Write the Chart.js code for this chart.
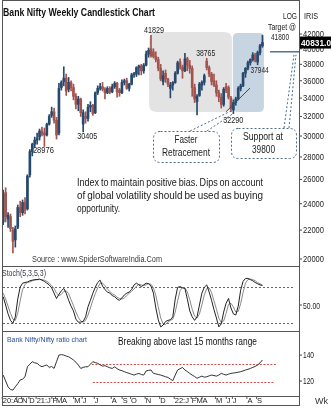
<!DOCTYPE html>
<html><head><meta charset="utf-8">
<script src="https://cdn.jsdelivr.net/npm/chart.js@4.4.0/dist/chart.umd.min.js"></script>
<style>html,body{margin:0;padding:0;background:#fff;}canvas{display:block;}</style>
</head><body>
<canvas id="c" width="331" height="412" style="width:331px;height:412px"></canvas>
<script>
// ---------------- DATA ----------------
const startWeek = '2020-08-24';
const totalSlots = 123; // weekly slots on the axis (108 candles + empty room at right)
const opens = [22600,24900,22800,23000,22000,21300,22200,23700,23300,24100,
23600,26400,28500,29200,29600,29900,30500,30300,30100,31200,
32100,32500,31600,30300,35200,35900,36300,35000,35800,35200,
34200,33300,33900,31200,32000,31800,33000,33200,32400,34600,
35100,35300,35000,34600,35100,34700,35300,35700,34900,34600,
35800,36000,35100,35600,36700,36800,37600,37800,37200,37900,
39300,40000,39600,39000,38600,37500,35900,36900,36200,35100,
35500,35800,36900,38300,37600,37200,38700,37900,37500,35200,
33600,34300,35500,35800,38400,37600,36800,36000,35500,34600,
34100,33300,35300,35200,34000,32700,33500,33900,35100,35400,
36900,37500,38200,38600,39200,38300,39500,40400];
const highs = [25100,25300,23300,23200,22200,22300,23900,24200,24300,24500,
26400,28700,29300,29900,30300,30700,30900,30800,31300,32200,
33000,32900,31900,35700,36000,37700,36800,36400,36000,35600,
34500,34200,34000,32700,32500,33300,33600,33300,34700,35400,
35700,35800,35200,35300,35300,35600,35900,35800,35100,36100,
36200,36300,35700,36900,37000,37700,37900,38000,38100,39700,
40100,41829,40000,39600,38900,38000,37200,37300,36300,35800,
35900,37100,38400,38700,37900,39400,38900,38500,37800,35600,
34400,35800,36000,36800,38765,37800,37000,36800,36000,34900,
34500,35200,35700,35400,34200,33800,34100,35300,35600,37000,
37600,38400,38700,39500,39400,39700,40600,41840];
const lows = [22400,22600,22200,21900,20400,20800,22100,23000,23100,23200,
23500,26200,28100,28900,29200,29600,30000,28976,30000,31100,
31900,31300,29700,30100,34900,35400,34300,34700,34800,33800,
32800,32600,32000,30405,31300,31500,32500,32100,32300,34400,
34900,34800,33900,34500,34500,34600,35100,34100,34200,34500,
35500,35000,34800,35500,36400,36500,36700,36700,36900,37800,
38900,38900,38800,38300,37200,36000,35500,35800,35300,34018,
34900,35700,36800,37400,36300,37100,37200,36900,34200,33500,
32155,34200,34900,35500,37300,36500,35500,35300,34200,33600,
32900,33100,34600,33900,32500,32290,33200,33800,34800,35300,
36400,37300,37900,38400,38300,37944,39200,40200];
const closes = [24800,23000,23100,22100,21200,22100,23700,23300,24100,23500,
26300,28500,29200,29600,29800,30500,30200,30100,31200,32000,
32500,31600,30100,35100,35800,36300,34800,35800,35200,34200,
33300,33900,32400,32400,31800,33000,33200,32300,34600,35100,
35300,35000,34600,35100,34700,35300,35700,34700,34600,35800,
36000,35100,35600,36700,36800,37600,37800,37200,37900,39300,
39800,39100,39000,38600,37500,36200,36600,36200,35600,35500,
35800,36900,38200,37600,37200,38700,37900,37500,35200,33900,
34200,35600,35800,36600,37600,36800,35900,35500,34600,34100,
33300,35000,34900,34100,32800,33500,33900,35100,35400,36900,
37500,38200,38600,39200,38500,39500,40400,40831];
const stochK = [64,50,35,24,19,30,60,80,87,88,
89,91,92,93,93,94,92,90,87,84,
79,70,61,68,74,78,70,58,48,40,
26,21,21,22,30,47,58,70,80,88,
92,82,76,72,70,66,64,60,58,62,
67,70,72,76,84,87,84,81,84,87,
86,82,70,45,25,13,16,22,24,25,
30,60,80,81,79,78,60,40,30,24,
30,50,70,80,84,72,58,42,28,13,
18,38,53,61,45,35,33,48,75,90,
95,95,93,91,88,86,84,83];
const stochD = [70,60,48,36,26,24,36,57,76,85,
88,89,91,92,93,93,93,92,90,87,
83,78,70,66,68,73,74,69,59,49,
38,29,23,21,24,33,45,58,69,79,
87,87,83,77,73,69,67,63,61,60,
62,66,70,73,77,82,85,84,83,84,
86,85,79,66,47,28,18,17,21,24,
26,38,57,74,80,79,72,59,43,31,
28,35,50,67,78,79,71,57,43,28,
20,23,36,51,53,47,38,39,52,71,
87,93,94,93,91,88,86,84];
const ratio = [124.6,120,115.6,113.5,113,115.6,118,120.8,121.5,123.3,
131,133,134.9,134,133.6,132,131,131.8,132.3,130.5,
131.2,129.7,134.9,140,140.3,140,139.2,138.7,137.5,136.2,
134.5,132.3,129.7,130.5,131,131,133,134.9,134.2,133.6,
132.5,131.5,131.8,131,130.2,129.7,131,129.5,128.5,128,
127.2,126.5,125.9,125.2,124.6,125.3,125.9,125,124.6,127.8,
128.2,128.5,125.9,125.5,125,124.6,124,123.3,122.8,121.5,
120.3,124.6,128.5,129.5,130.5,128.5,127.3,125.9,124.6,123.5,
122.1,123,123.8,123,123.3,124,124.6,124.2,123.8,124.6,
125.9,125.2,124.6,125.3,125.9,126.2,126.4,126.8,127.2,127.8,
128.5,129,129.7,130.5,131.2,132.3,134,136.2];
const priceTicks = [20000,22000,24000,26000,28000,30000,32000,34000,36000,38000,40000,42000];
const stochTicks = [50];
const ratioTicks = [120,140];
const monthLabels = ['20:A','O','N','D','21:J','F','M','A','M','J','J','A','S','O','N','D','22:J','F','M','A','M','J','J','A','S'];
const monthWeeks  = [0,6,8,11,14,20.5,22,24.5,29.5,33,38,45,49.5,53,59,65,71,78,80,82.5,88,92.5,95,101,105];
const lastPrice = 40831.0;
const supportLevel = 39800;
const target = 41800;

// ---------------- build ----------------
const weekLabels = [];
{ const d0 = new Date(startWeek + 'T00:00:00Z');
  for (let i = 0; i < totalSlots; i++) { const d = new Date(d0.getTime() + i * 7 * 86400000); weekLabels.push(d.toISOString().slice(0,10)); } }
const UP = '#26496d', DN = '#a4534d';
const candleColors = closes.map((c, i) => c >= opens[i] ? UP : DN);
const wickData = highs.map((h, i) => [lows[i], h]);
const bodyData = closes.map((c, i) => [Math.min(opens[i], c), Math.max(opens[i], c)]);

const FAM = '"Liberation Sans Narrow","Arial Narrow","Liberation Sans",Arial,sans-serif';
function F(size, bold) { return (bold ? 'bold ' : '') + size + 'px ' + FAM; }
function txt(ctx, s, x, y, font, color, w, align) {
  ctx.save(); ctx.font = font; ctx.fillStyle = color; ctx.textBaseline = 'middle'; ctx.textAlign = 'left';
  const m = ctx.measureText(s).width; const sx = w ? w / m : 1;
  ctx.translate(x, y); ctx.scale(sx, 1);
  let ox = 0; if (align === 'center') ox = -m / 2; else if (align === 'right') ox = -m;
  ctx.fillText(s, ox, 0); ctx.restore();
}
function justify(ctx, line, x, y, W, font, color) {
  ctx.save(); ctx.font = font; ctx.fillStyle = color; ctx.textBaseline = 'middle';
  const words = line.split(' '); const ws = words.map(w => ctx.measureText(w).width);
  const tot = ws.reduce((a, b) => a + b, 0);
  let gap = (W - tot) / (words.length - 1), sx = 1;
  if (gap < 2.2) { gap = 2.2; sx = W / (tot + gap * (words.length - 1)); }
  ctx.translate(x, y); ctx.scale(sx, 1); let cx = 0;
  words.forEach((w, k) => { ctx.fillText(w, cx, 0); cx += ws[k] + gap; });
  ctx.restore();
}
function rr(ctx, x, y, w, h, r) {
  ctx.beginPath(); ctx.moveTo(x + r, y); ctx.lineTo(x + w - r, y); ctx.quadraticCurveTo(x + w, y, x + w, y + r);
  ctx.lineTo(x + w, y + h - r); ctx.quadraticCurveTo(x + w, y + h, x + w - r, y + h);
  ctx.lineTo(x + r, y + h); ctx.quadraticCurveTo(x, y + h, x, y + h - r);
  ctx.lineTo(x, y + r); ctx.quadraticCurveTo(x, y, x + r, y); ctx.closePath();
}
function line(ctx, x0, y0, x1, y1, color, dash, w) {
  ctx.save(); ctx.strokeStyle = color; ctx.lineWidth = w || 1; ctx.setLineDash(dash || []);
  ctx.beginPath(); ctx.moveTo(x0, y0); ctx.lineTo(x1, y1); ctx.stroke(); ctx.restore();
}

const zones = [
  { from: 60.2, to: 94.4, top: 42280, bottom: 32480, fill: '#e3e3e3', r: 8 },
  { from: 94.8, to: 107.6, top: 42140, bottom: 32480, fill: '#c7d4e1', r: 5 }
];
const rangeLines = [ { from: 36.6, to: 113, value: 133.1 }, { from: 37, to: 112, value: 119.5 } ];
const trend = { from: 91.9, to: 101.9, p0: 32480, p1: 35150 };
const priceNotes = [
  { i: 61, t: '41829', at: 'h', dx: 3, dy: -5, w: 20 },
  { i: 84, t: '38765', at: 'h', dx: -1, dy: -5, w: 19 },
  { i: 105, t: '37944', at: 'l', dx: 2, dy: 6, w: 18 },
  { i: 95, t: '32290', at: 'l', dx: 0, dy: 7, w: 20 },
  { i: 33, t: '30405', at: 'l', dx: 4, dy: 4.5, w: 20 },
  { i: 17, t: '28976', at: 'l', dx: -1, dy: 4, w: 21 }
];

const deco = {
  id: 'deco',
  beforeDraw(c) { const ctx = c.ctx; ctx.save(); ctx.fillStyle = '#fff'; ctx.fillRect(0, 0, c.width, c.height); ctx.restore(); },
  beforeDatasetsDraw(c) {
    const ctx = c.ctx, { x, price, stoch, ratio: rs } = c.scales, ca = c.chartArea;
    for (const z of zones) {
      const x0 = x.getPixelForValue(z.from), x1 = x.getPixelForValue(z.to);
      const y0 = price.getPixelForValue(z.top), y1 = price.getPixelForValue(z.bottom);
      ctx.save(); ctx.fillStyle = z.fill; rr(ctx, x0, y0, x1 - x0, y1 - y0, z.r); ctx.fill(); ctx.restore();
    }
    for (const v of [80, 20]) { const y = Math.round(stoch.getPixelForValue(v)) + 0.5; line(ctx, ca.left + 1, y, ca.right - 6, y, '#666', [2, 2]); }
    for (const r of rangeLines) { const y = Math.round(rs.getPixelForValue(r.value)) + 0.5; line(ctx, x.getPixelForValue(r.from), y, x.getPixelForValue(r.to), y, '#c0504d', [2, 1.5]); }
  },
  afterDatasetsDraw(c) {
    const ctx = c.ctx, { x, price, stoch, ratio: rs } = c.scales, ca = c.chartArea;
    const frame = '#555';
    // frames
    line(ctx, 2.5, 0.5, 2.5, 405.5, frame);
    line(ctx, 2, 0.5, 300, 0.5, frame);
    line(ctx, ca.right - 0.5, 0, ca.right - 0.5, 405.5, frame);
    line(ctx, 2, Math.round(stoch.top) + 0.5, ca.right, Math.round(stoch.top) + 0.5, frame);
    line(ctx, 2, Math.round(rs.top) + 0.5, ca.right, Math.round(rs.top) + 0.5, frame);
    line(ctx, 2, Math.round(rs.bottom) + 0.5, ca.right, Math.round(rs.bottom) + 0.5, frame);
    line(ctx, 2, 405.5, ca.right, 405.5, frame);
    // trend line
    line(ctx, x.getPixelForValue(trend.from), price.getPixelForValue(trend.p0), x.getPixelForValue(trend.to), price.getPixelForValue(trend.p1), '#2f4d6b', [], 1);
    // support line
    const ys = price.getPixelForValue(39600);
    line(ctx, x.getPixelForValue(110.1), ys, ca.right, ys, '#2f4d6b', [], 1.2);
    // title etc
    txt(ctx, 'Bank Nifty Weekly Candlestick Chart', 3, 13, F(11.5, true), '#111', 152);
    txt(ctx, 'LOG', 283, 17, F(9), '#222', 14);
    txt(ctx, 'IRIS', 304, 17, F(9), '#222', 14);
    txt(ctx, 'Target @', 268, 28, F(9), '#222', 28);
    txt(ctx, String(target), 271, 38, F(9), '#222', 18);
    for (const n of priceNotes) {
      const px = x.getPixelForValue(n.i), py = price.getPixelForValue(n.at === 'h' ? highs[n.i] : lows[n.i]);
      txt(ctx, n.t, px + n.dx, py + n.dy, F(9), '#222', n.w, 'center');
    }
    // callout pointer lines
    const cl = '#4d6b8a';
    line(ctx, 190, 131, 231, 111, cl, [2, 2]);
    line(ctx, 207, 131, 234, 113, cl, [2, 2]);
    line(ctx, 284, 128, 294, ys + 3, cl, [2, 2]);
    line(ctx, 289, 128, 296, ys + 3, cl, [2, 2]);
    // callout boxes
    ctx.save(); ctx.fillStyle = '#fff'; ctx.strokeStyle = cl; ctx.lineWidth = 1; ctx.setLineDash([2, 2]);
    rr(ctx, 153.5, 131.5, 66, 31, 7); ctx.fill(); ctx.stroke();
    rr(ctx, 231.5, 128.5, 65, 30, 7); ctx.fill(); ctx.stroke(); ctx.restore();
    txt(ctx, 'Faster', 186, 140.5, F(10), '#222', 23, 'center');
    txt(ctx, 'Retracement', 186, 153, F(10), '#222', 48, 'center');
    txt(ctx, 'Support at', 263, 137, F(10), '#222', 40, 'center');
    txt(ctx, String(supportLevel), 263.5, 150, F(10), '#222', 23, 'center');
    // paragraph
    justify(ctx, 'Index to maintain positive bias. Dips on account', 77, 183.5, 186, F(10.5), '#1a1a1a');
    justify(ctx, 'of global volatility should be used as buying', 77, 196, 186, F(10.5), '#1a1a1a');
    txt(ctx, 'opportunity.', 77, 209, F(10.5), '#1a1a1a', 43);
    txt(ctx, 'Source : www.SpiderSoftwareIndia.Com', 32, 259.5, F(9.5), '#3a3a3a', 130);
    // panel labels
    txt(ctx, 'Stoch(5,3,5,3)', 2, 273.5, F(8.5), '#333a48', 44);
    txt(ctx, 'Bank Nifty/Nifty ratio chart', 7, 340, F(8), '#2b4f92', 80);
    txt(ctx, 'Breaking above last 15 months range', 118, 342, F(10), '#111', 139);
    // right axis
    for (const t of priceTicks) { const y = price.getPixelForValue(t); line(ctx, ca.right, y, ca.right + 2, y, '#444'); txt(ctx, String(t), 303, y + 0.5, F(9), '#222', 21); }
    for (const t of stochTicks) { const y = stoch.getPixelForValue(t); line(ctx, ca.right, y, ca.right + 2, y, '#444'); txt(ctx, t.toFixed(2), 303, y + 1.5, F(9), '#222', 17); }
    for (const t of ratioTicks) { const y = rs.getPixelForValue(t); line(ctx, ca.right, y, ca.right + 2, y, '#444'); txt(ctx, String(t), 303, y + 0.5, F(9), '#222', 11); }
    // last price box
    const yl = price.getPixelForValue(lastPrice);
    ctx.save(); ctx.fillStyle = '#000'; ctx.fillRect(300, yl - 6, 31, 12); ctx.restore();
    txt(ctx, lastPrice.toFixed(1), 301, yl + 0.5, F(9.5, true), '#fff', 30);
    // x labels
    for (let k = 0; k < monthLabels.length; k++) {
      const px = x.getPixelForValue(monthWeeks[k]) - 0.5;
      line(ctx, px - 0.5, rs.bottom + 1, px - 0.5, rs.bottom + 3, '#555');
      txt(ctx, monthLabels[k], px, 400.5, F(7.5), '#222');
    }
    txt(ctx, 'Wk', 315, 401.5, F(9), '#333', 13);
  }
};

new Chart(document.getElementById('c').getContext('2d'), {
  type: 'bar',
  data: {
    labels: weekLabels,
    datasets: [
      { label: 'wick', data: wickData, backgroundColor: candleColors, barThickness: 1, grouped: false, yAxisID: 'price', order: 3 },
      { label: 'body', data: bodyData, backgroundColor: candleColors, barThickness: 2, minBarLength: 1, grouped: false, yAxisID: 'price', order: 2 },
      { type: 'line', label: '%D', data: stochD, borderColor: '#8a8a8a', borderWidth: 1, pointRadius: 0, yAxisID: 'stoch', order: 1 },
      { type: 'line', label: '%K', data: stochK, borderColor: '#222', borderWidth: 1, pointRadius: 0, yAxisID: 'stoch', order: 0 },
      { type: 'line', label: 'ratio', data: ratio, borderColor: '#333', borderWidth: 1, pointRadius: 0, yAxisID: 'ratio', order: 0 }
    ]
  },
  options: {
    responsive: false, animation: false, devicePixelRatio: 1,
    layout: { padding: { left: 2, right: 31, top: 1, bottom: 16 } },
    plugins: { legend: { display: false }, tooltip: { enabled: false } },
    scales: {
      x: { display: false, offset: true },
      price: { type: 'logarithmic', display: false, position: 'right', stack: 's', stackWeight: 265, min: 19544, max: 46826 },
      stoch: { type: 'linear', display: false, position: 'right', stack: 's', stackWeight: 65, min: 6, max: 116 },
      ratio: { type: 'linear', display: false, position: 'right', stack: 's', stackWeight: 65, min: 108.5, max: 158.5 }
    }
  },
  plugins: [deco]
});
</script>
</body></html>
